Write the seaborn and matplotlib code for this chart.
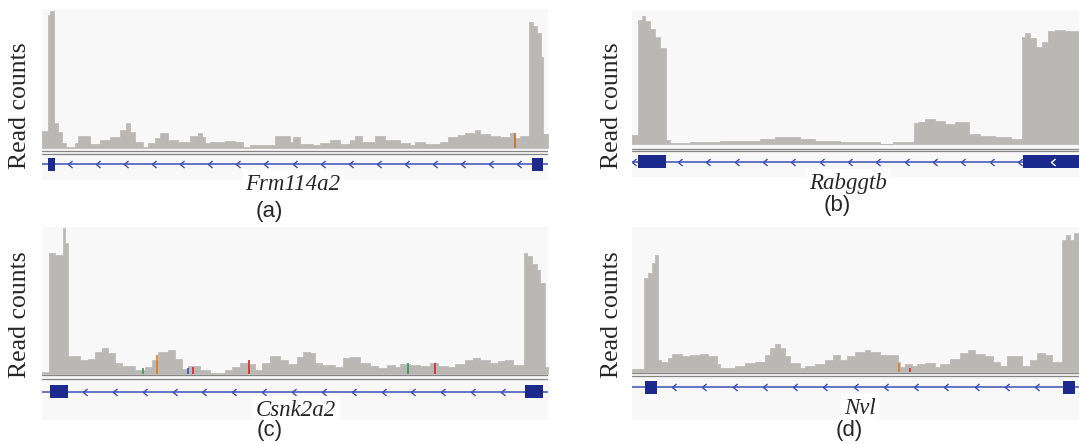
import numpy as np
import pandas as pd
import matplotlib
matplotlib.use("Agg")
import matplotlib.pyplot as plt
import seaborn as sns
from matplotlib.path import Path
from matplotlib.patches import Rectangle

# ---------------- data (locus positions relative to panel start, read counts scaled 0-100) ----------------
edges_a = [0, 6, 8, 12, 16, 20, 24, 33, 36, 48, 58, 68, 78, 84, 88, 93, 101, 106, 113, 118, 126, 136, 148, 156,
           160, 163, 168, 183, 193, 201, 208, 233, 248, 251, 258, 271, 278, 288, 298, 308, 313, 320, 333, 343,
           358, 368, 373, 383, 398, 406, 416, 423, 433, 438, 448, 458, 468, 473, 478, 487, 491, 495, 499, 501, 506]
counts_a = [12.4, 95, 98, 17.6, 11.6, 3.5, 1, 3.5, 8.6, 2.9, 5.7, 8, 12.9, 17.6, 11.6, 4.5, 1, 3.3, 7, 10.5,
            5.7, 4.5, 8.6, 11, 8, 3.5, 4.5, 5, 4, 1, 2, 8.6, 4.5, 8, 3, 2, 3.5, 5.7, 2.6, 5.7, 8.6, 4.5, 8.6, 6,
            3.5, 1.9, 4.5, 2.6, 4.5, 8, 9, 11, 12.9, 10, 8.6, 8, 10.7, 7, 8.6, 90, 87, 82, 65, 10]

edges_b = [0, 6, 10, 13, 18, 23, 28, 34, 38, 58, 88, 128, 143, 168, 183, 208, 248, 261, 282, 286, 293, 303, 313,
           323, 337, 348, 363, 379, 390, 393, 398, 404, 410, 416, 423, 433, 447]
counts_b = [6.7, 92.5, 95.5, 92, 86, 80, 72, 3, 1, 1.5, 2, 3.5, 5, 4, 2, 1.5, 0.3, 1.2, 15.6, 16.6, 18.4, 17.4,
            15, 16.6, 7.5, 6, 5.5, 4, 80, 82.6, 79, 72.6, 76.4, 84, 85, 84]

edges_c = [0, 7, 13, 21, 23, 26, 33, 38, 46, 53, 60, 66, 73, 80, 93, 103, 110, 116, 126, 133, 140, 146, 158, 168,
           183, 190, 198, 206, 213, 220, 228, 238, 246, 255, 261, 268, 273, 280, 293, 301, 308, 318, 328, 336,
           345, 353, 358, 368, 378, 388, 396, 406, 413, 423, 431, 438, 448, 456, 463, 471, 482, 485, 490, 495,
           498, 503, 506]
counts_c = [1.6, 82, 81, 99, 89, 12.2, 12.5, 9.5, 10.4, 15.2, 17.5, 14, 7.3, 5.4, 2.7, 4.5, 9.5, 15.2, 16.3, 10.4,
            3.6, 5.4, 2.9, 0.7, 2.7, 4.5, 7.7, 6.6, 2.7, 7.3, 12.2, 9.5, 6.8, 11.5, 15.2, 14, 7.7, 5.9, 4.5, 11,
            11.5, 7.3, 5.4, 4, 5.9, 4.5, 6.8, 6, 5.4, 7.3, 5.4, 4.5, 6.8, 9.5, 11, 9.5, 7.3, 9, 9.5, 6,
            82, 80, 75, 70.7, 61.7, 4.5]

edges_d = [0, 12, 16, 20, 23, 26, 29, 36, 40, 50, 58, 68, 76, 85, 88, 103, 113, 123, 133, 138, 143, 148, 153, 158,
           168, 173, 183, 193, 201, 208, 215, 223, 233, 238, 248, 258, 266, 268, 273, 280, 285, 293, 303, 308,
           318, 328, 336, 343, 353, 361, 368, 375, 383, 390, 398, 405, 413, 420, 430, 434, 438, 442, 447]
counts_d = [1.8, 64.6, 68, 75, 80.7, 8.3, 7.1, 9.4, 12.4, 11, 11.7, 12.4, 11, 5.6, 2.5, 4.1, 6.4, 7.1, 11.7, 16.3,
            19.3, 16.3, 10.8, 6.4, 2.5, 4.1, 5.6, 8.5, 12, 8, 10.8, 14, 15.2, 14, 11.7, 12, 7, 3.4, 5.6, 4.1,
            5.3, 6.4, 3.4, 5.6, 9.2, 12.9, 15.2, 12.4, 10.8, 7, 4.4, 10.8, 10.8, 4.4, 8.5, 12.9, 11.7, 7,
            91, 94.5, 91, 95.6]

# mismatch (SNP) markers
snp_a_pos, snp_a_h, snp_a_col = [473], [10.7], ["#d2691e"]
snp_b_pos, snp_b_h, snp_b_col = [], [], []
snp_c_pos = [101, 115, 146, 151, 207, 366, 393]
snp_c_h = [4, 13, 4, 4.5, 9.5, 7.3, 7.5]
snp_c_col = ["#2e9e4f", "#e07b20", "#3050d0", "#d62728", "#d62728", "#2e9e4f", "#d62728"]
snp_d_pos, snp_d_h, snp_d_col = [267, 278], [6, 3], ["#e07b20", "#d62728"]

# gene models
gene_names = ["Frm114a2", "Rabggtb", "Csnk2a2", "Nvl"]
panel_labels = ["(a)", "(b)", "(c)", "(d)"]
exons_a = [(5.7, 13), (490, 501)]
exons_b = [(6, 34), (391, 447)]
exons_c = [(8, 26), (483, 501)]
exons_d = [(13, 25), (431, 443)]
locus_len = [506, 447, 506, 447]

# ---------------- style / layout (figure pixels) ----------------
W, H = 1079, 444
GRAY = "#b9b8b5"
BG = "#f8f8f8"
LINE_BLUE = "#3c4fb6"
EXON_BLUE = "#1b2a8c"
TRACK_GRAY = "#858585"

layout = [
    dict(x0=42, x1=548, bg_top=9, bg_bot=180, cov_top=8, base=148, dl=(150.7, 154), gl=164, ex=(158, 171),
         chev=(28, 477, 17), extra_chev=[], white_chev=[],
         yl=(20, 106), name=(293, 184), lab=(269, 211)),
    dict(x0=632, x1=1079, bg_top=10, bg_bot=177, cov_top=10, base=144, dl=(148.7, 151.3), gl=161.5, ex=(155, 168),
         chev=(48, 388, 13), extra_chev=[2], white_chev=[421],
         yl=(612, 106), name=(848, 183), lab=(837, 206)),
    dict(x0=42, x1=548, bg_top=227, bg_bot=420, cov_top=227, base=374, dl=(375.5, 379), gl=392, ex=(385, 398),
         chev=(43, 461, 15), extra_chev=[], white_chev=[],
         yl=(20, 315), name=(296, 410), lab=(270, 430)),
    dict(x0=632, x1=1079, bg_top=227, bg_bot=420, cov_top=227, base=372, dl=(373, 376), gl=387, ex=(381, 394),
         chev=(42, 405, 13), extra_chev=[], white_chev=[],
         yl=(612, 315), name=(860, 408), lab=(849, 430)),
]

sns.set_theme(style="white")
plt.rcParams["font.family"] = ["Liberation Serif", "DejaVu Serif"]

fig = plt.figure(figsize=(W / 100, H / 100), dpi=100)
fig.patch.set_facecolor("white")


def rect(x0, x1, ytop, ybot):
    return [x0 / W, 1 - ybot / H, (x1 - x0) / W, (ybot - ytop) / H]


chev_path = Path([(0.3, 0.5), (-0.3, 0.0), (0.3, -0.5)], [Path.MOVETO, Path.LINETO, Path.LINETO])

datasets = [
    (edges_a, counts_a, exons_a, snp_a_pos, snp_a_h, snp_a_col),
    (edges_b, counts_b, exons_b, snp_b_pos, snp_b_h, snp_b_col),
    (edges_c, counts_c, exons_c, snp_c_pos, snp_c_h, snp_c_col),
    (edges_d, counts_d, exons_d, snp_d_pos, snp_d_h, snp_d_col),
]

for i, (edges, counts, exons, sp, sh, sc) in enumerate(datasets):
    L = layout[i]
    length = locus_len[i]

    # background + gene track axes (y in pixel units, inverted)
    axt = fig.add_axes(rect(L["x0"], L["x1"], L["bg_top"], L["bg_bot"]))
    axt.set_xlim(0, length)
    axt.set_ylim(L["bg_bot"], L["bg_top"])
    axt.axis("off")
    axt.add_patch(Rectangle((0, L["bg_top"]), length, L["bg_bot"] - L["bg_top"], color=BG, zorder=0))
    for yy in L["dl"]:
        axt.axhline(yy, color=TRACK_GRAY, lw=0.9, zorder=2)
    axt.axhline(L["gl"], color=LINE_BLUE, lw=1.1, zorder=2)
    for (s, e) in exons:
        axt.add_patch(Rectangle((s, L["ex"][0]), e - s, L["ex"][1] - L["ex"][0],
                                facecolor=EXON_BLUE, edgecolor="none", zorder=3))
    c0, c1, n = L["chev"]
    cx = list(np.linspace(c0, c1, n)) + L["extra_chev"]
    axt.plot(cx, [L["gl"]] * len(cx), linestyle="none", marker=chev_path, markersize=5,
             markerfacecolor="none", markeredgecolor=LINE_BLUE, markeredgewidth=1.0, zorder=4)
    if L["white_chev"]:
        axt.plot(L["white_chev"], [L["gl"]] * len(L["white_chev"]), linestyle="none", marker=chev_path,
                 markersize=5, markerfacecolor="none", markeredgecolor="white", markeredgewidth=1.0, zorder=5)

    # coverage axes
    axc = fig.add_axes(rect(L["x0"], L["x1"], L["cov_top"], L["base"]))
    axc.patch.set_alpha(0)
    df = pd.DataFrame({"pos": edges[:-1], "reads": counts})
    sns.histplot(data=df, x="pos", weights="reads", bins=edges, element="step", fill=True,
                 color=GRAY, alpha=1, linewidth=0.5, edgecolor=GRAY, ax=axc)
    if sp:
        axc.vlines(sp, 0, sh, colors=sc, lw=1.2)
    axc.set_xlim(0, length)
    axc.set_ylim(0, 100)
    axc.axis("off")

    # texts
    fig.text(L["yl"][0] / W, 1 - L["yl"][1] / H, "Read counts", rotation=90, ha="center", va="center",
             fontsize=18.5, family=["Liberation Serif"])
    fig.text(L["name"][0] / W, 1 - L["name"][1] / H, gene_names[i], ha="center", va="center",
             fontsize=16.5, style="italic", family=["Liberation Serif"],
             bbox=dict(facecolor="white", edgecolor="none", pad=2.5))
    fig.text(L["lab"][0] / W, 1 - L["lab"][1] / H, panel_labels[i], ha="center", va="center",
             fontsize=16, family=["Liberation Sans"])

fig.savefig("out.png", dpi=100, facecolor="white")
